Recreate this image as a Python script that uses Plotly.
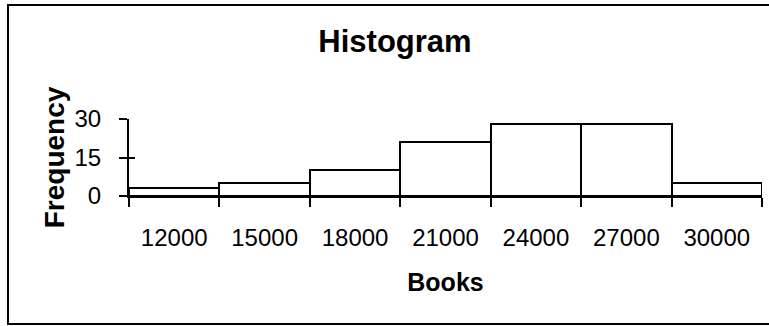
import plotly.graph_objects as go

categories = ["12000", "15000", "18000", "21000", "24000", "27000", "30000"]
frequency = [3, 5, 10, 21, 28, 28, 5]
y_ticks = [0, 15, 30]

W, H = 769, 326
ML, MR, MT, MB = 129, 7, 119, 130
FONT = "Liberation Sans, Arial, sans-serif"

fig = go.Figure()
fig.add_trace(go.Bar(
    x=categories, y=frequency,
    marker=dict(color="white", line=dict(color="black", width=2)),
    showlegend=False,
))

pw = W - ML - MR
ph = H - MT - MB
# outer chart-area frame (decoration)
fig.add_shape(type="rect", xref="paper", yref="paper",
              x0=(8 - ML) / pw, x1=(772 - ML) / pw,
              y0=((H - MB) - 324) / ph, y1=((H - MB) - 5) / ph,
              line=dict(color="black", width=2), fillcolor="rgba(0,0,0,0)", layer="below")

fig.update_layout(
    width=W, height=H,
    margin=dict(l=ML, r=MR, t=MT, b=MB, autoexpand=False),
    paper_bgcolor="white", plot_bgcolor="white",
    bargap=0,
    font=dict(family=FONT, color="black", size=24),
    title=dict(text="<b>Histogram</b>", font=dict(size=31, family=FONT, color="black"),
               xref="container", x=395 / W, xanchor="center",
               yref="container", y=1 - 41 / H, yanchor="middle"),
    xaxis=dict(type="category", showgrid=False, showline=True, linecolor="black", linewidth=2,
               ticks="outside", ticklen=9, tickwidth=2, tickcolor="black",
               tickson="boundaries", ticklabelstandoff=19,
               tickfont=dict(size=24),
               title=dict(text="<b>Books</b>", font=dict(size=25), standoff=24)),
    yaxis=dict(range=[0, 30], tickvals=y_ticks, showgrid=False, zeroline=False,
               showline=True, linecolor="black", linewidth=2,
               ticks="outside", ticklen=8, tickwidth=2, tickcolor="black",
               ticklabelstandoff=13, tickfont=dict(size=24),
               title=dict(text="<b>Frequency</b>", font=dict(size=28), standoff=2)),
    yaxis2=dict(range=[0, 30], tickvals=y_ticks, overlaying="y", side="left",
                showgrid=False, zeroline=False, showline=False, showticklabels=False,
                ticks="inside", ticklen=6, tickwidth=2, tickcolor="black"),
)
# invisible trace to activate yaxis2 for the crossing tick marks
fig.add_trace(go.Scatter(x=categories, y=frequency, yaxis="y2", mode="none",
                         showlegend=False, hoverinfo="skip"))

fig.write_html("out.html", config={"displayModeBar": False},
               post_script="document.body.style.margin='0';document.body.style.overflow='hidden';")
